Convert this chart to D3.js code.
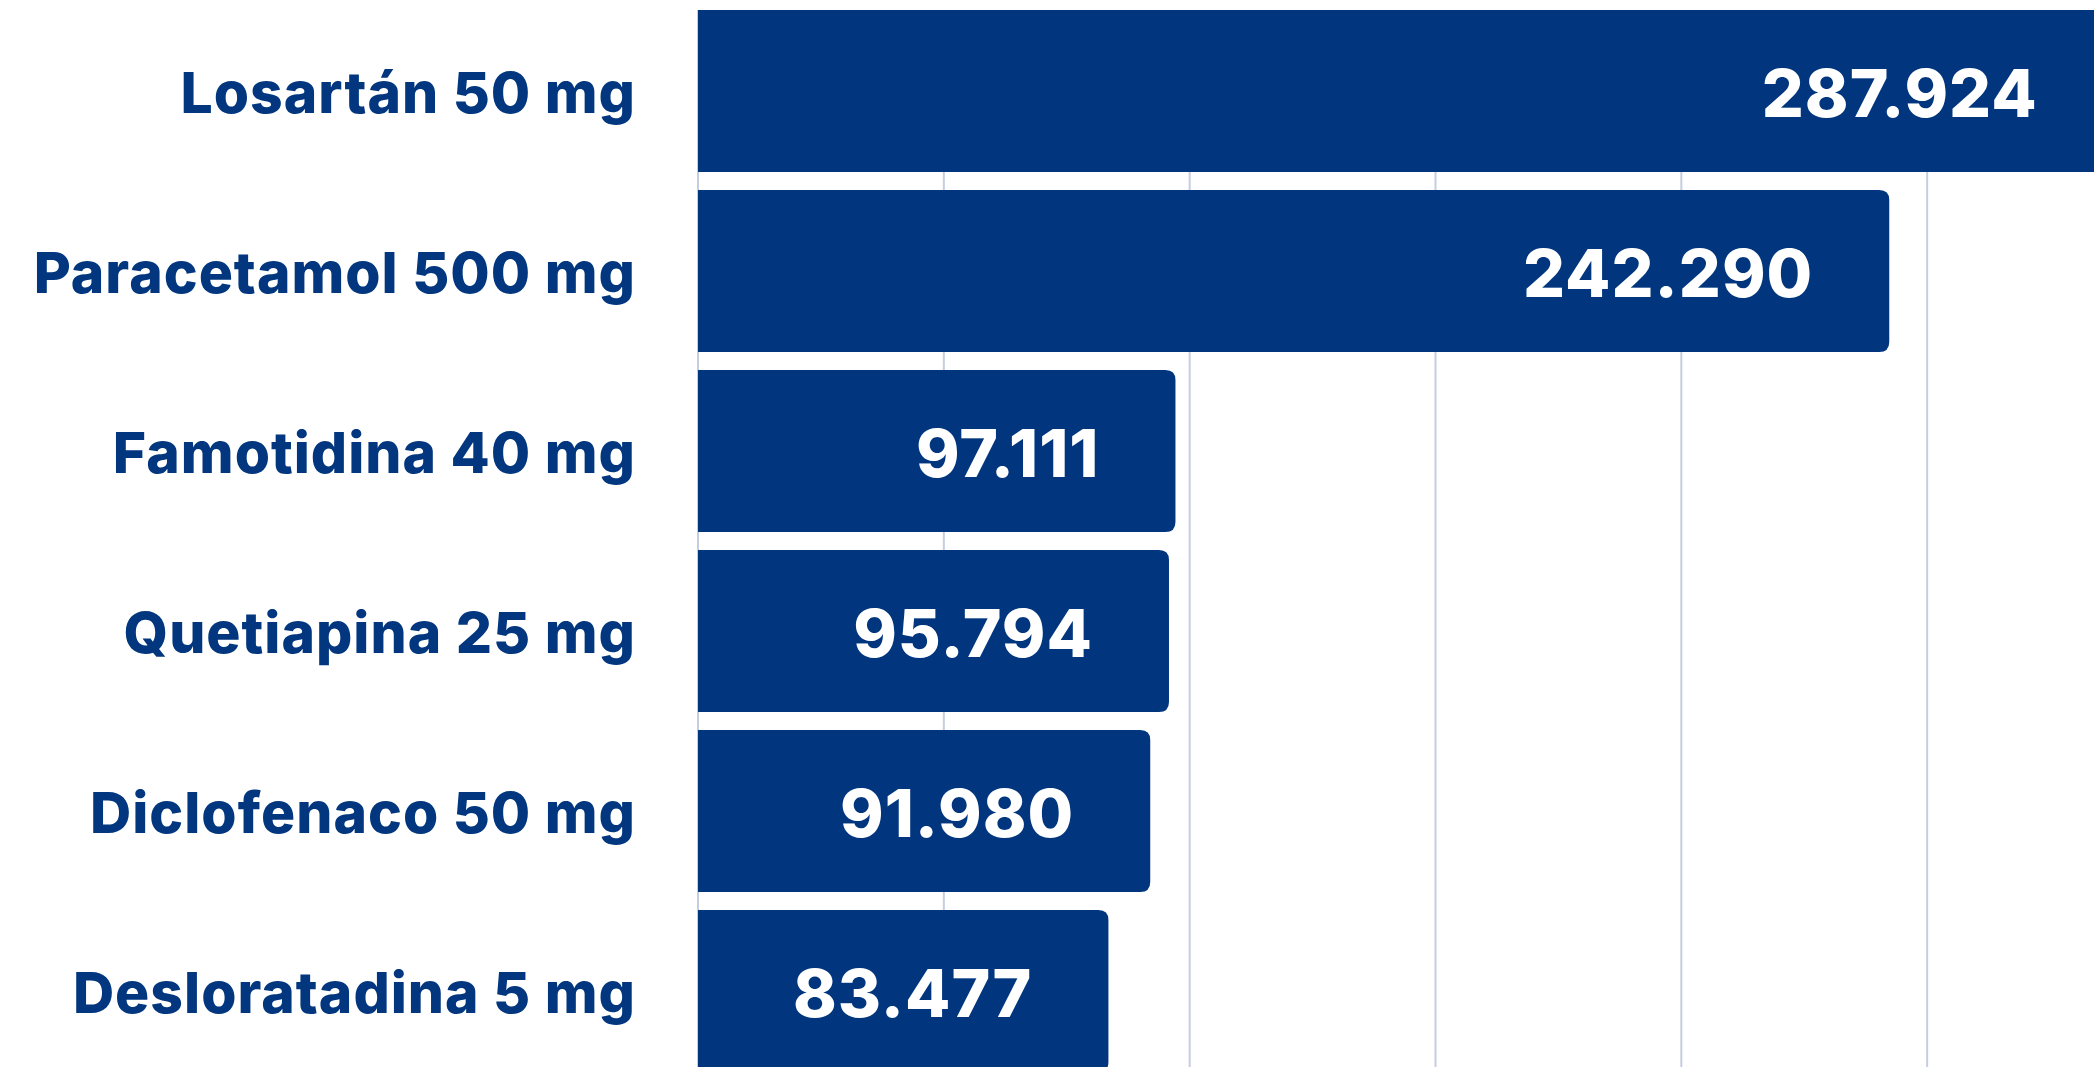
<!DOCTYPE html>
<html>
<head>
    <meta charset="utf-8">
    <style>
        body {
            margin: 0;
            background: #ffffff;
            overflow: hidden;
        }

        .cat-label {
            font-family: Inter, "Open Sans", sans-serif;
            font-weight: 800;
            font-size: 57px;
            letter-spacing: 1px;
            fill: #02377f;
        }

        .value-label {
            font-family: Inter, "Open Sans", sans-serif;
            font-weight: 800;
            font-size: 66px;
            letter-spacing: 1px;
            fill: #ffffff;
        }

        .grid line {
            stroke: #c3cee0;
            stroke-width: 2;
        }
    </style>
</head>
<body>
    <div id="chart"></div>
    <script src="https://cdnjs.cloudflare.com/ajax/libs/d3/7.8.5/d3.min.js"></script>
    <script>
        // Units dispensed per product
        const categories = [
            "Losartán 50 mg",
            "Paracetamol 500 mg",
            "Famotidina 40 mg",
            "Quetiapina 25 mg",
            "Diclofenaco 50 mg",
            "Desloratadina 5 mg"
        ];
        const values = [287924, 242290, 97111, 95794, 91980, 83477];
        const gridTicks = [0, 50000, 100000, 150000, 200000, 250000, 300000];

        const width = 2094;
        const height = 1067;
        const barColor = "#01367f";

        // Spanish number format: 287.924
        const es = d3.formatLocale({ decimal: ",", thousands: ".", grouping: [3], currency: ["", " €"] });
        const fmt = es.format(",d");

        const svg = d3.select("#chart")
            .append("svg")
            .attr("width", width)
            .attr("height", height);

        const x = d3.scaleLinear()
            .domain([0, 300000])
            .range([698, 2173]);

        const y = d3.scaleBand()
            .domain(categories)
            .range([1, 1081])
            .paddingInner(0.1)
            .paddingOuter(0.05);

        // vertical grid lines behind the bars
        svg.append("g")
            .attr("class", "grid")
            .selectAll("line")
            .data(gridTicks)
            .enter()
            .append("line")
            .attr("x1", d => x(d))
            .attr("x2", d => x(d))
            .attr("y1", y(categories[0]))
            .attr("y2", height);

        // bars with rounded right end
        const r = 10;
        function barPath(d, i) {
            const x0 = x(0), x1 = x(d), y0 = y(categories[i]), h = y.bandwidth();
            return `M${x0},${y0}H${x1 - r}Q${x1},${y0} ${x1},${y0 + r}` +
                `V${y0 + h - r}Q${x1},${y0 + h} ${x1 - r},${y0 + h}H${x0}Z`;
        }

        svg.append("g")
            .selectAll("path")
            .data(values)
            .enter()
            .append("path")
            .attr("d", barPath)
            .attr("fill", barColor);

        // category labels
        svg.append("g")
            .selectAll("text")
            .data(categories)
            .enter()
            .append("text")
            .attr("class", "cat-label")
            .attr("x", x(0) - 62)
            .attr("y", d => y(d) + y.bandwidth() / 2 + 22)
            .attr("text-anchor", "end")
            .text(d => d);

        // value labels inside bars
        svg.append("g")
            .selectAll("text")
            .data(values)
            .enter()
            .append("text")
            .attr("class", "value-label")
            .attr("x", d => x(d) - 76)
            .attr("y", (d, i) => y(categories[i]) + y.bandwidth() / 2 + 26)
            .attr("text-anchor", "end")
            .text(d => fmt(d));
    </script>
</body>
</html>
